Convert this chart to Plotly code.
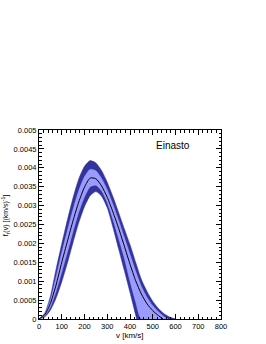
import plotly.graph_objects as go

# velocity grid [km/s]
v_central = [0, 25, 50, 75, 100, 125, 150, 175, 200, 225, 250, 275, 300, 325, 350,
             375, 400, 425, 450, 475, 500, 525, 545]
f_central = [0, 0.00011, 0.00041, 0.00090, 0.00150, 0.00206, 0.00261, 0.00310, 0.00349,
             0.00373, 0.00371, 0.00352, 0.00322, 0.00283, 0.00240, 0.00193, 0.00145,
             0.00101, 0.00066, 0.00040, 0.00022, 0.00009, 0]

# outer (dark) band
v_dark_up = [0, 25, 50, 75, 100, 125, 150, 175, 200, 225, 250, 275, 300, 325, 350,
             375, 400, 425, 450, 475, 500, 525, 550, 575, 598]
f_dark_up = [0, 0.00015, 0.00060, 0.00132, 0.00199, 0.00263, 0.00322, 0.00371, 0.00404,
             0.00419, 0.00413, 0.00393, 0.00362, 0.00324, 0.00282, 0.00239, 0.00197,
             0.00150, 0.00105, 0.00073, 0.00047, 0.00028, 0.00014, 0.00005, 0]
v_dark_lo = [0, 25, 50, 75, 100, 125, 150, 175, 200, 225, 250, 275, 300, 325, 350,
             375, 400, 425, 430]
f_dark_lo = [0, 0.00005, 0.00023, 0.00055, 0.00098, 0.00148, 0.00203, 0.00255, 0.00297,
             0.00326, 0.00337, 0.00325, 0.00294, 0.00242, 0.00185, 0.00128, 0.00070,
             0.00010, 0]

# inner (light) band
v_light_up = [0, 25, 50, 75, 100, 125, 150, 175, 200, 225, 250, 275, 300, 325, 350,
              375, 400, 425, 450, 475, 500, 525, 550, 567]
f_light_up = [0, 0.00013, 0.00050, 0.00111, 0.00175, 0.00234, 0.00291, 0.00340, 0.00376,
              0.00396, 0.00392, 0.00372, 0.00342, 0.00303, 0.00261, 0.00216, 0.00171,
              0.00126, 0.00086, 0.00057, 0.00035, 0.00019, 0.00006, 0]
v_light_lo = [0, 25, 50, 75, 100, 125, 150, 175, 200, 225, 250, 275, 300, 325, 350,
              375, 400, 425, 450]
f_light_lo = [0, 0.00008, 0.00032, 0.00073, 0.00124, 0.00177, 0.00232, 0.00283, 0.00323,
              0.00350, 0.00354, 0.00339, 0.00308, 0.00263, 0.00213, 0.00161, 0.00100,
              0.00045, 0]

x_ticks = [0, 100, 200, 300, 400, 500, 600, 700, 800]
y_ticks = [0, 0.0005, 0.001, 0.0015, 0.002, 0.0025, 0.003, 0.0035, 0.004, 0.0045, 0.005]
y_ticktext = ["0", "0.0005", "0.001", "0.0015", "0.002", "0.0025", "0.003", "0.0035",
              "0.004", "0.0045", "0.005"]

DARK = "#33339c"
LIGHT = "#9b9bff"
FONT = "Liberation Sans, Arial, sans-serif"

fig = go.Figure()

fig.add_trace(go.Scatter(
    x=v_dark_up + v_dark_lo[::-1], y=f_dark_up + f_dark_lo[::-1],
    fill="toself", fillcolor=DARK, mode="lines",
    line=dict(color=DARK, width=0.5, shape="spline", smoothing=0.6),
    hoverinfo="skip", showlegend=False))
fig.add_trace(go.Scatter(
    x=v_light_up + v_light_lo[::-1], y=f_light_up + f_light_lo[::-1],
    fill="toself", fillcolor=LIGHT, mode="lines",
    line=dict(color=LIGHT, width=0.5, shape="spline", smoothing=0.6),
    hoverinfo="skip", showlegend=False))
fig.add_trace(go.Scatter(
    x=v_central, y=f_central, mode="lines",
    line=dict(color="black", width=1, shape="spline", smoothing=0.6),
    showlegend=False))

axis_font = dict(family=FONT, size=7.5, color="black")

fig.update_xaxes(
    range=[0, 800], tickvals=x_ticks, ticktext=[str(t) for t in x_ticks],
    ticks="inside", ticklen=5, tickwidth=1, tickcolor="black",
    showline=True, linecolor="black", linewidth=1, mirror="allticks",
    showgrid=False, zeroline=False, tickfont=axis_font, automargin=False,
    minor=dict(dtick=20, ticks="inside", ticklen=2.5, tickcolor="black", showgrid=False))
fig.update_yaxes(
    range=[0, 0.005], tickvals=y_ticks, ticktext=y_ticktext,
    ticks="inside", ticklen=5, tickwidth=1, tickcolor="black",
    showline=True, linecolor="black", linewidth=1, mirror="allticks",
    showgrid=False, zeroline=False, tickfont=axis_font, automargin=False,
    minor=dict(dtick=0.0001, ticks="inside", ticklen=2.5, tickcolor="black", showgrid=False))

fig.add_annotation(text="Einasto", xref="paper", yref="paper", x=0.84, y=0.92,
                   xanchor="right", yanchor="middle", showarrow=False,
                   font=dict(family=FONT, size=10, color="black"))
fig.add_annotation(text="v [km/s]", xref="paper", yref="paper", x=0.5, y=-0.085,
                   xanchor="center", yanchor="middle", showarrow=False,
                   font=dict(family=FONT, size=8, color="black"))
fig.add_annotation(text="f<sub>r</sub>(v) [(km/s)<sup>-1</sup>]", xref="paper", yref="paper",
                   x=-0.18, y=0.545, xanchor="center", yanchor="middle", textangle=-90,
                   showarrow=False, font=dict(family=FONT, size=7, color="black"))

fig.update_layout(
    width=266, height=344,
    margin=dict(l=39, r=45, t=130, b=25),
    paper_bgcolor="white", plot_bgcolor="white",
)

fig.write_html("out.html", config={"displayModeBar": False},
               post_script="document.body.style.margin='0';")
